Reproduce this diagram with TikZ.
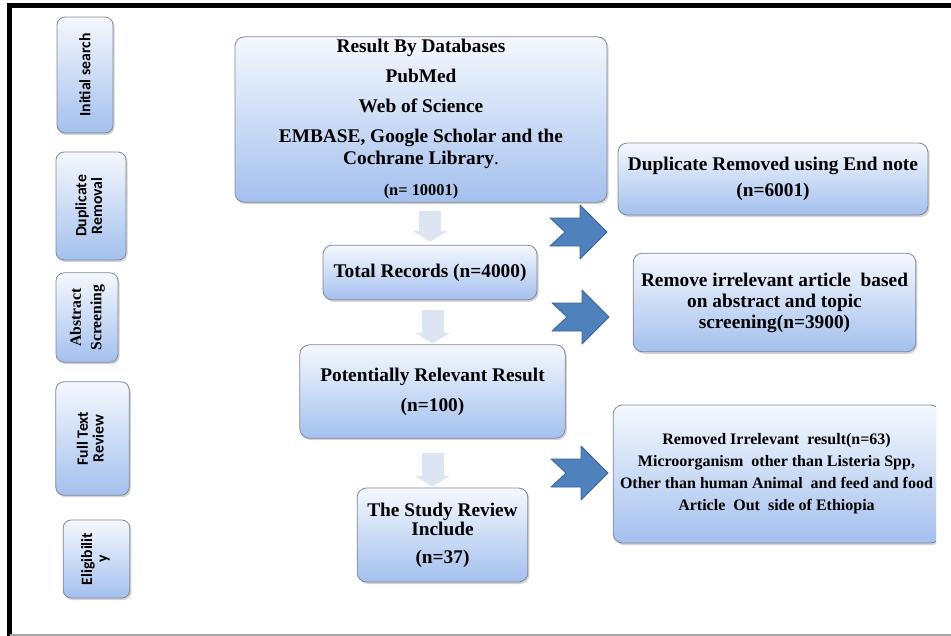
\documentclass[tikz,border=0pt]{standalone}
\usepackage{fontspec}
\setmainfont{Liberation Serif}
\newfontfamily\sidefont{Carlito}
\usetikzlibrary{positioning,shadows,arrows.meta}
\definecolor{boxtop}{HTML}{F5F8FD}
\definecolor{boxbot}{HTML}{A4C0EE}
\definecolor{boxline}{HTML}{7F8797}
\definecolor{arrblue}{HTML}{4F81BD}
\definecolor{arrline}{HTML}{3A659B}
\definecolor{downfill}{HTML}{DDE5F2}

\begin{document}
\begin{tikzpicture}[x=0.75pt, y=-0.75pt]
\tikzstyle{flowbox}=[draw=boxline, line width=0.6pt, rounded corners=7pt, top color=boxtop, bottom color=boxbot, drop shadow={shadow xshift=1.2pt, shadow yshift=-1.5pt, opacity=0.35}, align=center, inner sep=2pt, font=\bfseries\fontsize{14.5}{16.5}\selectfont]
\tikzstyle{sidebox}=[flowbox, rounded corners=6pt, font=\sidefont\bfseries\fontsize{11.8}{11.5}\selectfont]
\tikzstyle{downarr}=[line width=16.5pt, downfill, -{Triangle[width=25.5pt, length=8pt]}]
\tikzstyle{blockarr}=[fill=arrblue, draw=arrline, line width=0.6pt, line join=round]
\useasboundingbox (0,0) rectangle (951,636);
% frame
\draw[line width=3.75pt, line join=miter] (951,5.5) -- (9.5,5.5) -- (9.5,636);
\draw[black!35, line width=1.5pt] (9.5,635) -- (951,635);
% stages on the left
\node[sidebox, minimum width=42pt, minimum height=87pt] (s1) at (85,75) {\rotatebox{90}{Initial search}};
\node[sidebox, minimum width=52.5pt, minimum height=81pt] (s2) at (91,206) {\rotatebox{90}{\begin{tabular}{@{}c@{}}Duplicate\\Removal\end{tabular}}};
\node[sidebox, minimum width=46.5pt, minimum height=67pt, font=\rmfamily\bfseries\fontsize{11.8}{15.5}\selectfont] (s3) at (87,317.5) {\rotatebox{90}{\begin{tabular}{@{}c@{}}Abstract\\Screening\end{tabular}}};
\node[sidebox, minimum width=55pt, minimum height=85pt] (s4) at (92.5,438.5) {\rotatebox{90}{\begin{tabular}{@{}c@{}}Full Text\\Review\end{tabular}}};
\node[sidebox, minimum width=50pt, minimum height=58.5pt] (s5) at (96.5,559) {\rotatebox{90}{\begin{tabular}{@{}c@{}}Eligibilit\\y\end{tabular}}};
% main flow
\node[flowbox, minimum width=279pt, minimum height=124pt] (a) at (421,119.5) {Result By Databases\\[6pt] PubMed\\[6pt] Web of Science\\[6pt] EMBASE, Google Scholar and the\\ Cochrane Library{\mdseries.}\\[6.75pt] {\fontsize{12.3}{13}\selectfont (n= 10001)}};
\node[flowbox, minimum width=160.5pt, minimum height=41pt] (b) at (430,272.5) {Total Records (n=4000)};
\node[flowbox, minimum width=199pt, minimum height=70pt] (c) at (432.5,391.5) {Potentially Relevant Result\\[6pt] (n=100)};
\node[flowbox, minimum width=128pt, minimum height=70.5pt] (d) at (442.5,535) {The Study Review\\[-2.25pt] Include\\[4.5pt] (n=37)};
% removed records
\node[flowbox, minimum width=232.5pt, minimum height=54pt] (e) at (773,179) {Duplicate Removed using End note\\[3pt] (n=6001)};
\node[flowbox, minimum width=212pt, minimum height=74pt] (f) at (774.5,302.5) {Remove irrelevant article~~based\\[-0.75pt] on abstract and topic\\[-0.75pt] screening(n=3900)};
\begin{scope}
\clip (0,0) rectangle (936,636);
\node[flowbox, minimum width=245pt, minimum height=103.5pt, font=\bfseries\fontsize{12}{16.5}\selectfont] (g) at (776.5,474) {Removed Irrelevant~ result(n=63)\\ Microorganism~ other than Listeria Spp,\\ Other than human Animal~ and feed and food\\ Article~ Out~ side of Ethiopia};
\end{scope}
% arrows
\draw[downarr, shorten <=6pt, shorten >=2.25pt] (a.south -| b) -- (b.north);
\draw[downarr, shorten <=7.5pt, shorten >=0.75pt] (b.south -| c) -- (c.north);
\draw[downarr, shorten <=10.5pt, shorten >=0.75pt] (c.south) -- (c.south |- d.north);
\coordinate (n1) at (580,232);
\coordinate (n2) at (582,317);
\coordinate (n3) at (581,473);
\foreach \c in {n1,n2,n3}{\draw[blockarr] (\c) ++(-30,-14) -- ++(30,0) -- ++(0,-13) -- ++(27,27) -- ++(-27,27) -- ++(0,-13) -- ++(-30,0) -- ++(15,-14) -- cycle;}
\end{tikzpicture}
\end{document}
